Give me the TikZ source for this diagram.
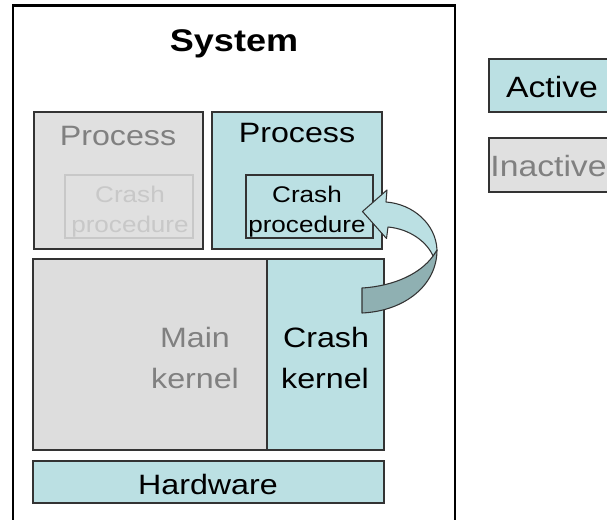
\documentclass[tikz,border=0pt]{standalone}
\usepackage{fontspec}
\setmainfont[FakeStretch=1.15]{Liberation Sans}
\usetikzlibrary{fit}
\definecolor{actfill}{RGB}{187,224,227}
\definecolor{inactfill}{RGB}{224,224,224}
\definecolor{mainfill}{RGB}{221,221,221}
\definecolor{edge}{RGB}{51,51,51}
\definecolor{greytext}{RGB}{128,128,128}
\definecolor{palegrey}{RGB}{200,200,200}
\definecolor{arrowdark}{RGB}{143,176,178}
\tikzset{
  box/.style={draw=edge, line width=1pt, inner sep=0pt},
  activebox/.style={box, fill=actfill},
  inactivebox/.style={box, fill=inactfill},
  lbl/.style={anchor=base, inner sep=0pt, font=\fontsize{21}{25}\selectfont},
  smalllbl/.style={anchor=base, inner sep=0pt, font=\fontsize{17}{20}\selectfont},
  arrowpart/.style={draw=edge, line width=0.8pt, line join=round}
}
\begin{document}
\begin{tikzpicture}[x=0.75pt, y=-0.75pt]
\useasboundingbox (0,0) rectangle (607,519);
\clip (0,0) rectangle (607,519);
\fill[white] (0,0) rectangle (607,519);

% system frame
\node[draw=black, line width=1.9pt, inner sep=0pt, fit={(13,5.5)(455,540)}] (sys) {};
\node[anchor=base, inner sep=0pt, font=\fontsize{23.5}{28}\selectfont\bfseries] (systitle) at (234,51) {System};

% processes
\node[inactivebox, fit={(34,112)(203,249)}] (proc1) {};
\node[lbl, text=greytext] (proc1lbl) at (118,145.5) {Process};
\node[box, draw=palegrey, fit={(65,175)(193,238)}] (crash1) {};
\node[smalllbl, text=palegrey] (crash1a) at (130,202) {Crash};
\node[smalllbl, text=palegrey] (crash1b) at (130,232) {procedure};

\node[activebox, fit={(212,112)(382,249)}] (proc2) {};
\node[lbl] (proc2lbl) at (297,142) {Process};
\node[box, fit={(246,175)(373,238)}] (crash2) {};
\node[smalllbl] (crash2a) at (307,202) {Crash};
\node[smalllbl] (crash2b) at (307,232) {procedure};

% kernels
\node[box, fill=mainfill, fit={(33,259)(267,450)}] (mainkernel) {};
\node[lbl, text=greytext] (mk1) at (195,347) {Main};
\node[lbl, text=greytext] (mk2) at (195,388) {kernel};
\node[activebox, fit={(267,259)(384,450)}] (crashkernel) {};
\node[lbl] (ck1) at (326,347) {Crash};
\node[lbl] (ck2) at (325,388) {kernel};

% hardware
\node[activebox, fit={(33,461)(384,503)}] (hw) {};
\node[lbl] (hwlbl) at (208,494) {Hardware};

% legend
\node[activebox, fit={(489,59)(617,112)}] (legact) {};
\node[lbl, font=\fontsize{22}{26}\selectfont] (legactlbl) at (552,97) {Active};
\node[inactivebox, fit={(489,138)(617,192)}] (leginact) {};
\node[lbl, font=\fontsize{22}{26}\selectfont, text=greytext] (leginactlbl) at (548.5,176) {Inactive};

% curved block arrow from crash kernel to crash procedure
\coordinate (tailtop) at (362,288);
\coordinate (tailbot) at (362,313);
\coordinate (fold) at (433,256);
\coordinate (outerR) at (437,250);
\coordinate (headA) at (386,202);
\coordinate (headB) at (388,227);
\coordinate (headC) at (386.5,238.5);
\coordinate (tip) at (362.5,211.5);
\coordinate (headD) at (387,190);
\fill[arrowdark] (fold) -- (outerR) .. controls (437,285) and (405,311) .. (tailbot)
  -- (tailtop) .. controls (395,286) and (421,273) .. (fold) -- cycle;
\draw[arrowpart] (fold) -- (outerR) .. controls (437,285) and (405,311) .. (tailbot)
  -- (tailtop) .. controls (395,286) and (421,273) .. (fold) -- cycle;
\draw[arrowpart, fill=actfill] (headA) .. controls (413,204) and (436,224) .. (outerR)
  -- (fold) .. controls (427,242) and (410,229) .. (headB)
  -- (headC) -- (tip) -- (headD) -- cycle;
\end{tikzpicture}
\end{document}
